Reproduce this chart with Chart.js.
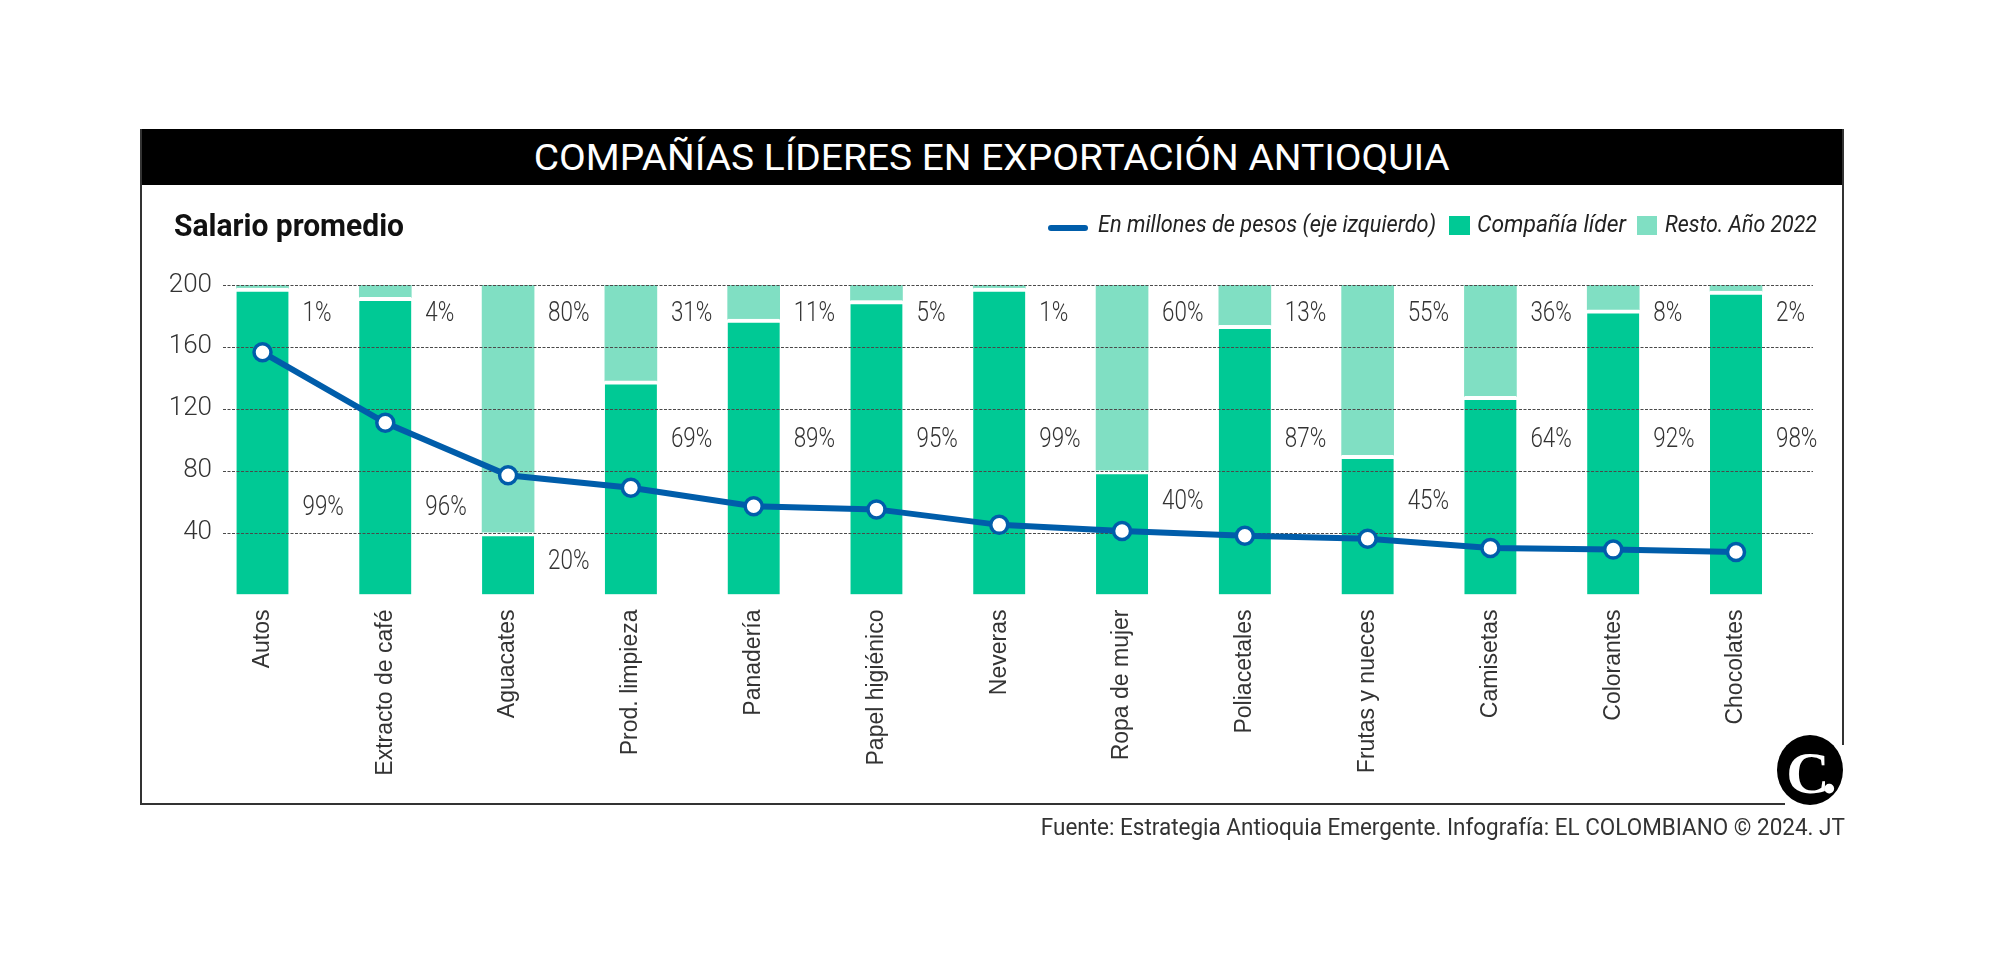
<!DOCTYPE html>
<html>
<head>
<meta charset="utf-8">
<script src="https://cdn.jsdelivr.net/npm/chart.js@4.4.1/dist/chart.umd.min.js"></script>
<style>
html,body{margin:0;padding:0;background:#fff;width:2000px;height:955px;overflow:hidden;}
#c{position:absolute;left:0;top:0;}
.abs{position:absolute;}
.fit{position:absolute;white-space:nowrap;line-height:1;font-family:Roboto,sans-serif;}
</style>
</head>
<body>
<canvas id="c" width="2000" height="955"></canvas>

<!-- frame -->
<div class="abs" style="left:140px;top:129px;width:1704px;height:56px;background:#000"></div>
<div class="abs" style="left:140px;top:129px;width:2px;height:676px;background:#333"></div>
<div class="abs" style="left:140px;top:803px;width:1645px;height:2px;background:#333"></div>
<div class="abs" style="left:1842px;top:129px;width:2px;height:616px;background:#333"></div>

<div class="fit" data-fs="37" data-w="916" data-x="992" data-cy="157" style="color:#fff;font-weight:400">COMPAÑÍAS LÍDERES EN EXPORTACIÓN ANTIOQUIA</div>
<div class="fit" data-fs="30.5" data-w="230" data-l="173.5" data-cy="226" style="color:#111;font-weight:700">Salario promedio</div>

<!-- legend -->
<div class="abs" style="left:1048px;top:225px;width:40px;height:6px;border-radius:3px;background:#005DAA"></div>
<div class="fit" id="lg1" data-fs="23.5" data-w="338" data-l="1098" data-cy="224" style="color:#222;font-style:italic">En millones de pesos (eje izquierdo)</div>
<div class="abs" style="left:1449px;top:216px;width:21px;height:19px;background:#00C995"></div>
<div class="fit" id="lg2" data-fs="23.5" data-w="149" data-l="1477" data-cy="224" style="color:#222;font-style:italic">Compañía líder</div>
<div class="abs" style="left:1637px;top:216px;width:20px;height:19px;background:#80DFC3"></div>
<div class="fit" id="lg3" data-fs="23.5" data-w="152" data-l="1665" data-cy="224" style="color:#222;font-style:italic">Resto. Año 2022</div>

<div class="fit" data-fs="23" data-w="804" data-r="1845" data-cy="827" style="color:#333">Fuente: Estrategia Antioquia Emergente. Infografía: EL COLOMBIANO © 2024. JT</div>

<!-- logo -->
<div class="abs" style="left:1777px;top:735px;width:66px;height:70px;border-radius:50%;background:#000;display:flex;align-items:center;justify-content:center;">
  <span style="color:#fff;font-family:'Liberation Serif',serif;font-weight:700;font-size:60px;line-height:1;margin-top:6px;margin-left:3px"><span style="letter-spacing:-8px">C</span>.</span>
</div>

<script>
// ---------------- data ----------------
const categories = ["Autos","Extracto de café","Aguacates","Prod. limpieza","Panadería","Papel higiénico","Neveras","Ropa de mujer","Poliacetales","Frutas y nueces","Camisetas","Colorantes","Chocolates"];
const salary     = [156.5, 111, 77, 69, 57, 55, 45, 41, 38, 36, 30, 29, 27.5];
const leaderPct  = [99, 96, 20, 69, 89, 95, 99, 40, 87, 45, 64, 92, 98];
const restPct    = [1, 4, 80, 31, 11, 5, 1, 60, 13, 55, 36, 8, 2];
const yTicks     = [40, 80, 120, 160, 200];
const seriesNames = ["En millones de pesos (eje izquierdo)", "Compañía líder", "Resto. Año 2022"];

// ---------------- text fitting ----------------
document.querySelectorAll('.fit').forEach(el => {
  const fs = parseFloat(el.dataset.fs);
  el.style.fontSize = fs + 'px';
  const nat = el.getBoundingClientRect().width;
  const k = parseFloat(el.dataset.w) / nat;
  el.style.top = (parseFloat(el.dataset.cy) - 0.4865 * fs) + 'px';
  if (el.dataset.l) { el.style.left = el.dataset.l + 'px'; el.style.transformOrigin = '0 0'; }
  else if (el.dataset.r) { el.style.left = (parseFloat(el.dataset.r) - nat) + 'px'; el.style.transformOrigin = '100% 0'; }
  else { el.style.left = (parseFloat(el.dataset.x) - nat / 2) + 'px'; el.style.transformOrigin = '50% 0'; }
  el.style.transform = 'scaleX(' + k + ')';
});

// ---------------- plugins ----------------
const gridUnderLine = {
  id: 'gridUnderLine',
  beforeDatasetDraw(chart, args, opts) {
    if (chart.data.datasets[args.index].type !== 'line') return;
    const {ctx, chartArea, scales: {y}} = chart;
    ctx.save();
    ctx.strokeStyle = opts.color;
    ctx.lineWidth = opts.width;
    ctx.setLineDash(opts.dash);
    yTicks.forEach(v => {
      const py = Math.round(y.getPixelForValue(v)) + 0.5;
      ctx.beginPath();
      ctx.moveTo(chartArea.left, py);
      ctx.lineTo(chartArea.right, py);
      ctx.stroke();
    });
    ctx.restore();
  }
};

const pctLabels = {
  id: 'pctLabels',
  afterDatasetsDraw(chart, args, opts) {
    const {ctx, scales: {x, y}} = chart;
    ctx.save();
    ctx.fillStyle = opts.color;
    ctx.font = opts.font;
    ctx.textBaseline = 'middle';
    ctx.textAlign = 'left';
    const draw = (t, px, py) => {
      ctx.save(); ctx.translate(px, py); ctx.scale(opts.squeeze, 1); ctx.fillText(t, 0, 0); ctx.restore();
    };
    categories.forEach((c, i) => {
      const px = x.getPixelForValue(i) + opts.offsetX;
      draw(restPct[i] + '%', px, y.getPixelForValue(opts.upperAt));
      draw(leaderPct[i] + '%', px, y.getPixelForValue(opts.lowerAt[i]));
    });
    ctx.restore();
  }
};

// ---------------- chart ----------------
Chart.defaults.font.family = 'Roboto';
const blue = '#005DAA', green = '#00C995', light = '#80DFC3';

new Chart(document.getElementById('c'), {
  type: 'bar',
  data: {
    datasets: [
      {
        type: 'line', label: seriesNames[0], yAxisID: 'y', order: 0,
        data: salary.map((v, i) => ({x: i, y: v})),
        borderColor: blue, borderWidth: 6, tension: 0,
        pointRadius: 8.5, pointBorderWidth: 3.5, pointBackgroundColor: '#fff', pointBorderColor: blue,
        clip: false
      },
      {
        label: seriesNames[1], yAxisID: 'yp', stack: 's', order: 1,
        data: leaderPct.map((v, i) => ({x: i, y: v})),
        backgroundColor: green, borderColor: '#fff',
        borderWidth: {top: 4, bottom: 0, left: 0, right: 0}, borderSkipped: false,
        barThickness: 52
      },
      {
        label: seriesNames[2], yAxisID: 'yp', stack: 's', order: 1,
        data: restPct.map((v, i) => ({x: i, y: v})),
        backgroundColor: light, borderWidth: 0,
        barThickness: 52
      }
    ]
  },
  options: {
    responsive: false,
    animation: false,
    layout: {padding: {left: 140, right: 187, top: 285, bottom: 170.5}},
    scales: {
      x: {
        type: 'linear', position: 'bottom', offset: false,
        min: -0.3217, max: 12.627,
        afterBuildTicks: s => { s.ticks = categories.map((c, i) => ({value: i})); },
        afterFit: s => { s.height = 190; },
        grid: {display: false, drawTicks: false, offset: false},
        border: {display: false},
        ticks: {
          autoSkip: false, minRotation: 90, maxRotation: 90, padding: 15,
          color: '#333', font: {family: 'Liberation Sans', size: 23},
          callback: v => categories[v]
        }
      },
      y: {
        position: 'left', min: 0, max: 200,
        afterBuildTicks: s => { s.ticks = yTicks.map(v => ({value: v})); },
        afterFit: s => { s.width = 83; },
        grid: {display: false, drawTicks: false},
        border: {display: false},
        ticks: {padding: 11, color: '#333', font: {family: 'Roboto', size: 26, weight: '300'}}
      },
      yp: {
        display: false, stacked: true, min: 0, max: 100
      }
    },
    plugins: {
      legend: {display: false},
      tooltip: {enabled: false},
      gridUnderLine: {color: '#4a4a4a', width: 1.2, dash: [3, 1.5]},
      pctLabels: {
        color: '#333', font: '300 28px Roboto', squeeze: 0.8, offsetX: 40,
        upperAt: 181,
        lowerAt: [56, 56, 21, 100, 100, 100, 100, 60, 100, 60, 100, 100, 100]
      }
    }
  },
  plugins: [gridUnderLine, pctLabels]
});
</script>
</body>
</html>
